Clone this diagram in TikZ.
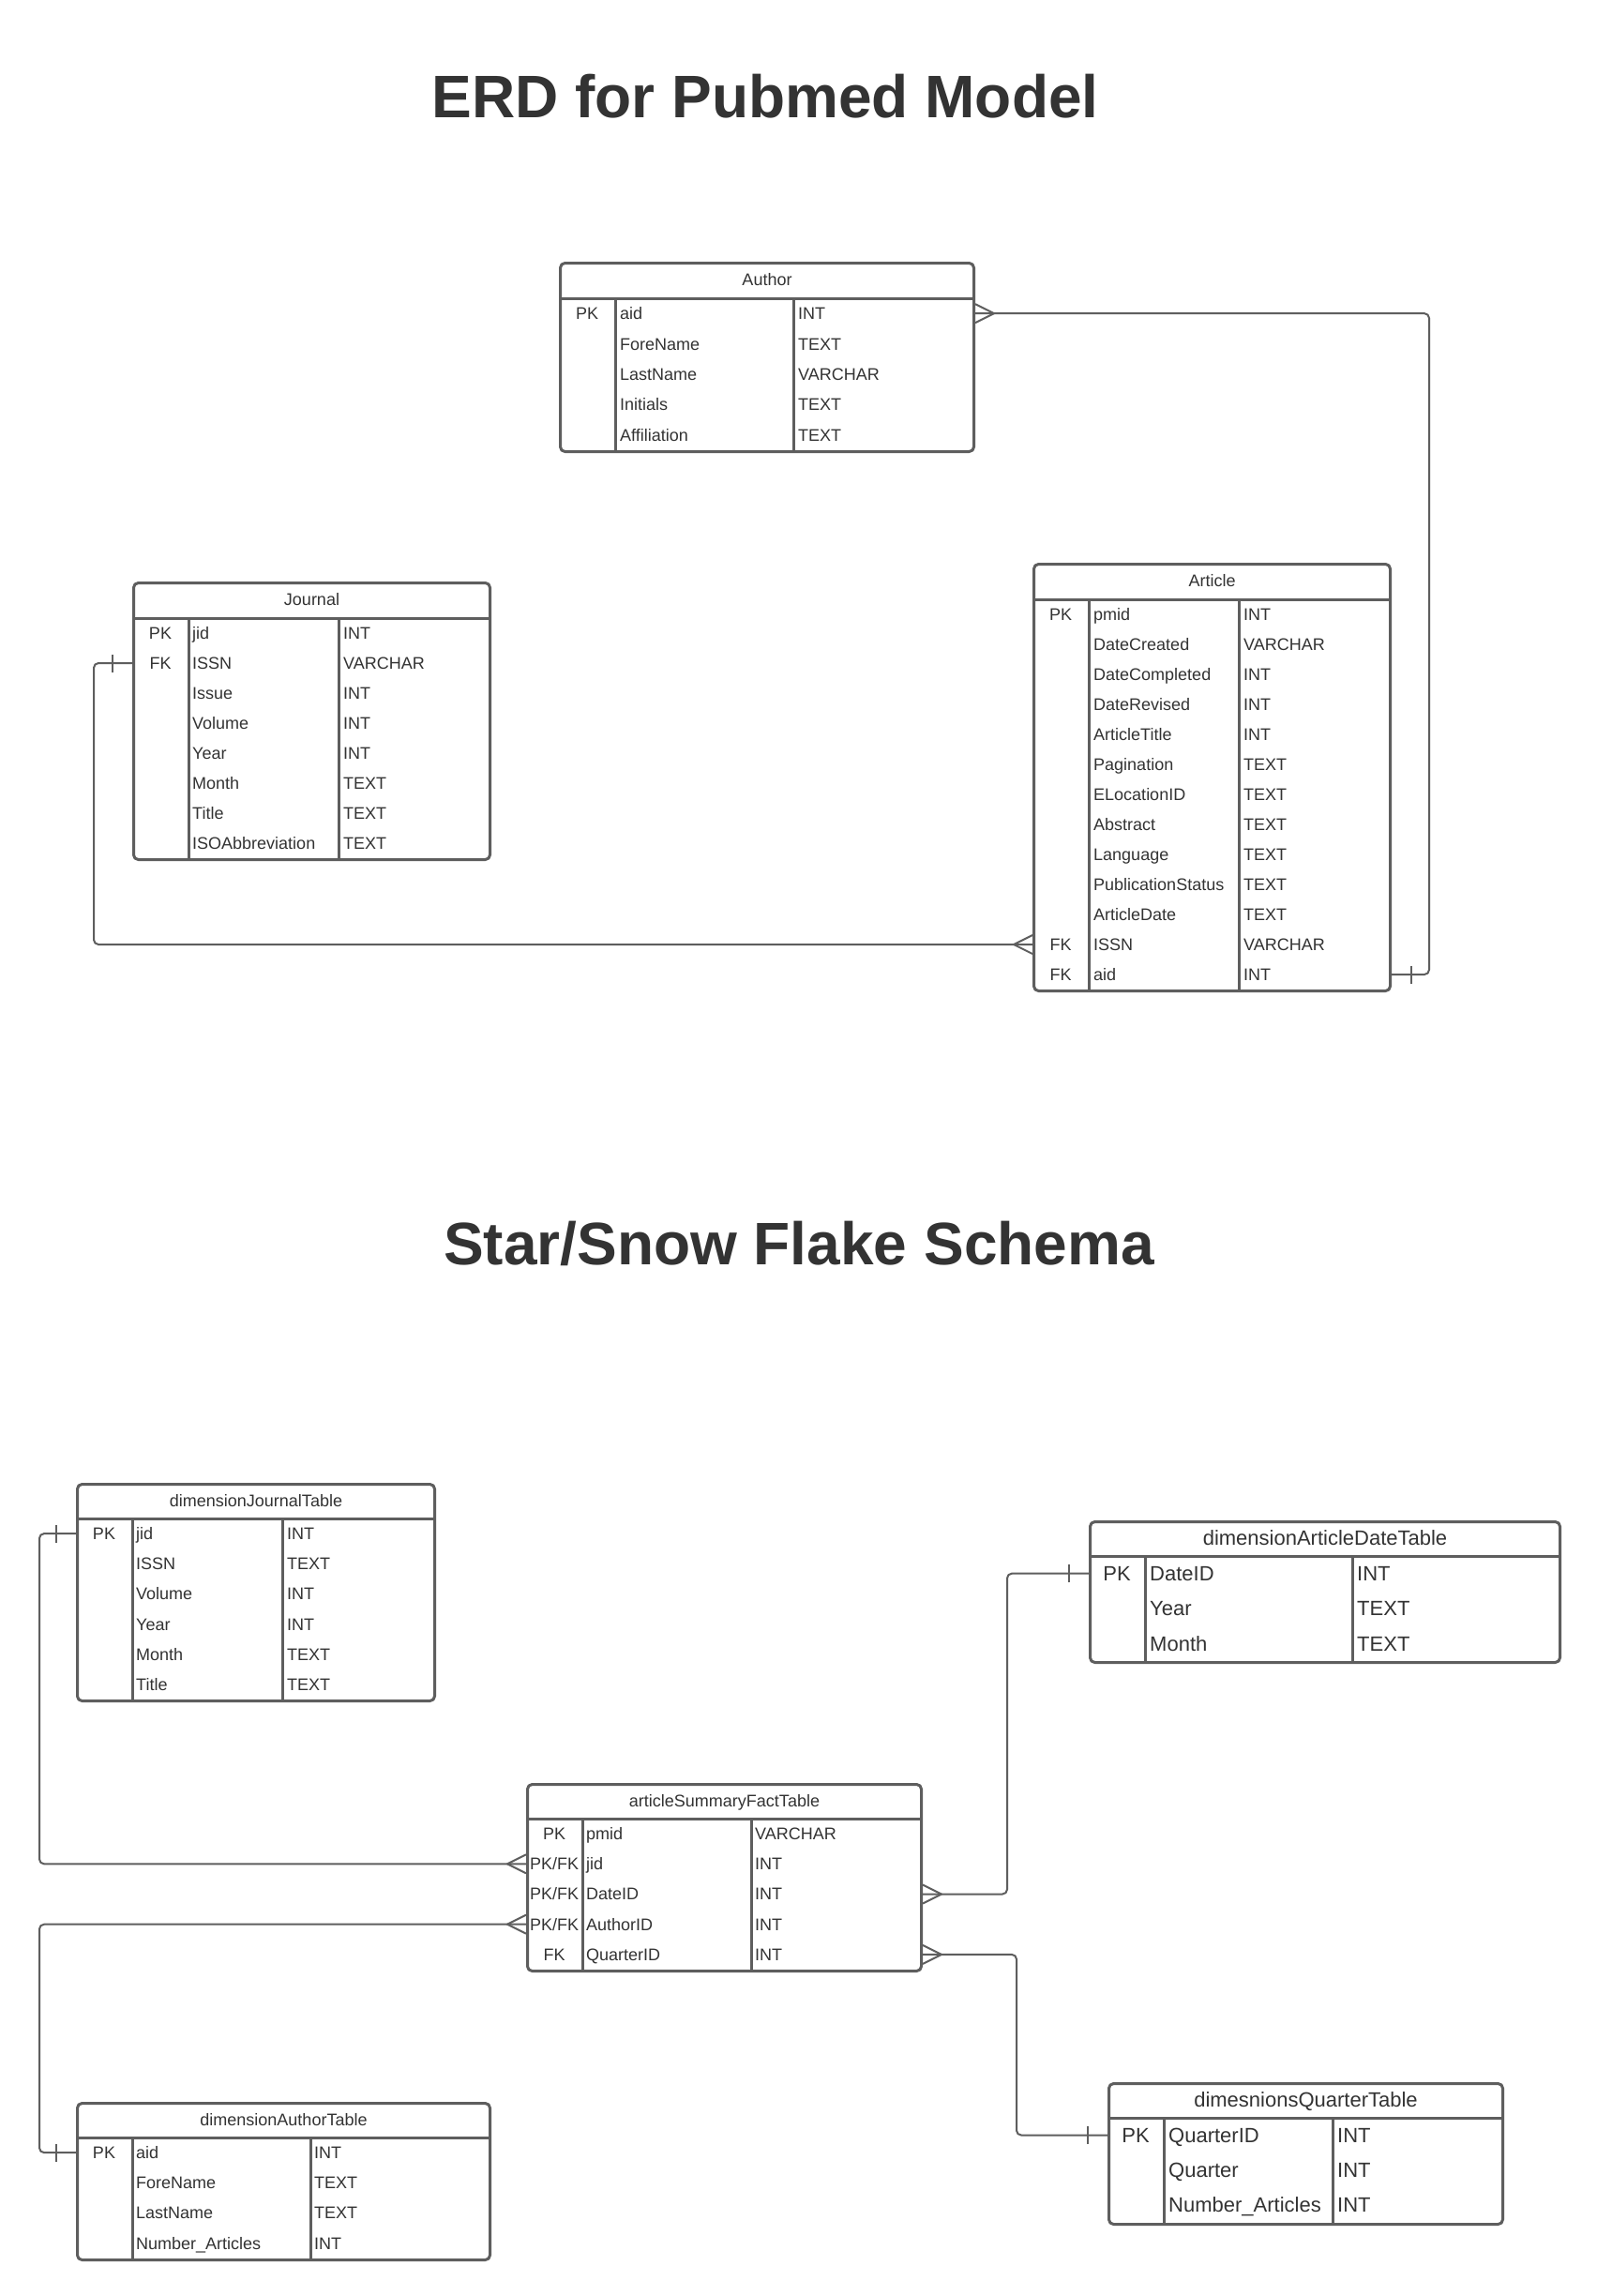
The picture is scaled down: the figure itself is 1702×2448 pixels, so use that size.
\documentclass[tikz,border=0pt]{standalone}
\usepackage{fontspec}
\setmainfont{Liberation Sans}
\usepackage{tikz}
\definecolor{linegray}{HTML}{5E5E5E}
\definecolor{textgray}{HTML}{333333}
\begin{document}
\begin{tikzpicture}[x=1pt, y=-1pt, line join=round,
		tbl/.style ={draw=linegray, line width=3pt, rounded corners=5pt, anchor=north west, inner sep=0pt},
		rule/.style ={draw=linegray, line width=3pt},
		link/.style ={draw=linegray, line width=2pt, rounded corners=5pt},
		head/.style ={text=textgray, inner sep=0pt, text height=12.9pt, text depth=0pt, font=\fontsize{18}{21}\selectfont},
		cell/.style ={text=textgray, inner sep=0pt, text height=12.9pt, text depth=0pt, font=\fontsize{18}{21}\selectfont},
		bighead/.style ={head, text height=15.8pt, font=\fontsize{22}{26}\selectfont},
		bigcell/.style ={cell, text height=15.8pt, font=\fontsize{22}{26}\selectfont},
		title/.style ={text=textgray, anchor=base, inner sep=0pt, font=\bfseries\fontsize{64}{72}\selectfont},
		crow/.pic ={\draw[link, rounded corners=0pt] (0,-10) -- (20,0) -- (0,10);},
		one/.pic ={\draw[link] (21,-9.5) -- (21,9.5);}]
		\useasboundingbox (0,0) rectangle (1702,2448);
		\fill[white] (0,0) rectangle (1702,2448);
		\node[title] (erdtitle) at (816,126) {ERD for Pubmed Model};
		\node[title] (startitle) at (852,1348) {Star/Snow Flake Schema};
		% Author
		\node[tbl, minimum width=441pt, minimum height=201pt] (author) at (596,279) {};
		\node[head] (author-h) at ([yshift=-19.5pt]author.north) {Author};
		\draw[rule] ([yshift=-39pt]author.north west) -- ([yshift=-39pt]author.north east);
		\draw[rule] ([xshift=60pt,yshift=-39pt]author.north west) -- ([xshift=60pt]author.south west);
		\draw[rule] ([xshift=250pt,yshift=-39pt]author.north west) -- ([xshift=250pt]author.south west);
		\foreach \k/\f/\t [count=\i] in {PK/aid/INT, /ForeName/TEXT, /LastName/VARCHAR, /Initials/TEXT, /Affiliation/TEXT}{
			\node[cell] (author-k\i) at ([xshift=30pt, yshift={-39pt-(\i-0.5)*32.4pt}]author.north west) {\k};
			\node[cell, anchor=west] (author-r\i) at ([xshift=65pt, yshift={-39pt-(\i-0.5)*32.4pt}]author.north west) {\f};
			\node[cell, anchor=west] (author-t\i) at ([xshift=255pt, yshift={-39pt-(\i-0.5)*32.4pt}]author.north west) {\t};
		}
		% Journal
		\node[tbl, minimum width=380pt, minimum height=295pt] (journal) at (141,620) {};
		\node[head] (journal-h) at ([yshift=-19.5pt]journal.north) {Journal};
		\draw[rule] ([yshift=-39pt]journal.north west) -- ([yshift=-39pt]journal.north east);
		\draw[rule] ([xshift=60pt,yshift=-39pt]journal.north west) -- ([xshift=60pt]journal.south west);
		\draw[rule] ([xshift=220pt,yshift=-39pt]journal.north west) -- ([xshift=220pt]journal.south west);
		\foreach \k/\f/\t [count=\i] in {PK/jid/INT, FK/ISSN/VARCHAR, /Issue/INT, /Volume/INT, /Year/INT, /Month/TEXT, /Title/TEXT, /ISOAbbreviation/TEXT}{
			\node[cell] (journal-k\i) at ([xshift=30pt, yshift={-39pt-(\i-0.5)*32pt}]journal.north west) {\k};
			\node[cell, anchor=west] (journal-r\i) at ([xshift=64pt, yshift={-39pt-(\i-0.5)*32pt}]journal.north west) {\f};
			\node[cell, anchor=west] (journal-t\i) at ([xshift=225pt, yshift={-39pt-(\i-0.5)*32pt}]journal.north west) {\t};
		}
		% Article
		\node[tbl, minimum width=380pt, minimum height=455pt] (article) at (1101,600) {};
		\node[head] (article-h) at ([yshift=-19.5pt]article.north) {Article};
		\draw[rule] ([yshift=-39pt]article.north west) -- ([yshift=-39pt]article.north east);
		\draw[rule] ([xshift=60pt,yshift=-39pt]article.north west) -- ([xshift=60pt]article.south west);
		\draw[rule] ([xshift=220pt,yshift=-39pt]article.north west) -- ([xshift=220pt]article.south west);
		\foreach \k/\f/\t [count=\i] in {PK/pmid/INT, /DateCreated/VARCHAR, /DateCompleted/INT, /DateRevised/INT, /ArticleTitle/INT, /Pagination/TEXT, /ELocationID/TEXT, /Abstract/TEXT, /Language/TEXT, /PublicationStatus/TEXT, /ArticleDate/TEXT, FK/ISSN/VARCHAR, FK/aid/INT}{
			\node[cell] (article-k\i) at ([xshift=30pt, yshift={-39pt-(\i-0.5)*32pt}]article.north west) {\k};
			\node[cell, anchor=west] (article-r\i) at ([xshift=65pt, yshift={-39pt-(\i-0.5)*32pt}]article.north west) {\f};
			\node[cell, anchor=west] (article-t\i) at ([xshift=225pt, yshift={-39pt-(\i-0.5)*32pt}]article.north west) {\t};
		}
		% dimensionJournalTable
		\node[tbl, minimum width=381pt, minimum height=231pt] (djournal) at (81,1581) {};
		\node[head] (djournal-h) at ([yshift=-19pt]djournal.north) {dimensionJournalTable};
		\draw[rule] ([yshift=-38pt]djournal.north west) -- ([yshift=-38pt]djournal.north east);
		\draw[rule] ([xshift=60pt,yshift=-38pt]djournal.north west) -- ([xshift=60pt]djournal.south west);
		\draw[rule] ([xshift=220pt,yshift=-38pt]djournal.north west) -- ([xshift=220pt]djournal.south west);
		\foreach \k/\f/\t [count=\i] in {PK/jid/INT, /ISSN/TEXT, /Volume/INT, /Year/INT, /Month/TEXT, /Title/TEXT}{
			\node[cell] (djournal-k\i) at ([xshift=30pt, yshift={-38pt-(\i-0.5)*32.2pt}]djournal.north west) {\k};
			\node[cell, anchor=west] (djournal-r\i) at ([xshift=64pt, yshift={-38pt-(\i-0.5)*32.2pt}]djournal.north west) {\f};
			\node[cell, anchor=west] (djournal-t\i) at ([xshift=225pt, yshift={-38pt-(\i-0.5)*32.2pt}]djournal.north west) {\t};
		}
		% dimensionArticleDateTable
		\node[tbl, minimum width=501pt, minimum height=150pt] (ddate) at (1161,1621) {};
		\node[bighead] (ddate-h) at ([yshift=-19pt]ddate.north) {dimensionArticleDateTable};
		\draw[rule] ([yshift=-38pt]ddate.north west) -- ([yshift=-38pt]ddate.north east);
		\draw[rule] ([xshift=60pt,yshift=-38pt]ddate.north west) -- ([xshift=60pt]ddate.south west);
		\draw[rule] ([xshift=281pt,yshift=-38pt]ddate.north west) -- ([xshift=281pt]ddate.south west);
		\foreach \k/\f/\t [count=\i] in {PK/DateID/INT, /Year/TEXT, /Month/TEXT}{
			\node[bigcell] (ddate-k\i) at ([xshift=30pt, yshift={-38pt-(\i-0.5)*37.3pt}]ddate.north west) {\k};
			\node[bigcell, anchor=west] (ddate-r\i) at ([xshift=65pt, yshift={-38pt-(\i-0.5)*37.3pt}]ddate.north west) {\f};
			\node[bigcell, anchor=west] (ddate-t\i) at ([xshift=286pt, yshift={-38pt-(\i-0.5)*37.3pt}]ddate.north west) {\t};
		}
		% articleSummaryFactTable
		\node[tbl, minimum width=420pt, minimum height=199pt] (fact) at (561,1901) {};
		\node[head] (fact-h) at ([yshift=-19pt]fact.north) {articleSummaryFactTable};
		\draw[rule] ([yshift=-38pt]fact.north west) -- ([yshift=-38pt]fact.north east);
		\draw[rule] ([xshift=60pt,yshift=-38pt]fact.north west) -- ([xshift=60pt]fact.south west);
		\draw[rule] ([xshift=240pt,yshift=-38pt]fact.north west) -- ([xshift=240pt]fact.south west);
		\foreach \k/\f/\t [count=\i] in {PK/pmid/VARCHAR, {PK/FK}/jid/INT, {PK/FK}/DateID/INT, {PK/FK}/AuthorID/INT, FK/QuarterID/INT}{
			\node[cell] (fact-k\i) at ([xshift=30pt, yshift={-38pt-(\i-0.5)*32.2pt}]fact.north west) {\k};
			\node[cell, anchor=west] (fact-r\i) at ([xshift=64pt, yshift={-38pt-(\i-0.5)*32.2pt}]fact.north west) {\f};
			\node[cell, anchor=west] (fact-t\i) at ([xshift=244pt, yshift={-38pt-(\i-0.5)*32.2pt}]fact.north west) {\t};
		}
		% dimensionAuthorTable
		\node[tbl, minimum width=440pt, minimum height=167pt] (dauthor) at (81,2241) {};
		\node[head] (dauthor-h) at ([yshift=-19pt]dauthor.north) {dimensionAuthorTable};
		\draw[rule] ([yshift=-38pt]dauthor.north west) -- ([yshift=-38pt]dauthor.north east);
		\draw[rule] ([xshift=60pt,yshift=-38pt]dauthor.north west) -- ([xshift=60pt]dauthor.south west);
		\draw[rule] ([xshift=250pt,yshift=-38pt]dauthor.north west) -- ([xshift=250pt]dauthor.south west);
		\foreach \k/\f/\t [count=\i] in {PK/aid/INT, /ForeName/TEXT, /LastName/TEXT, /Number\_Articles/INT}{
			\node[cell] (dauthor-k\i) at ([xshift=30pt, yshift={-38pt-(\i-0.5)*32.2pt}]dauthor.north west) {\k};
			\node[cell, anchor=west] (dauthor-r\i) at ([xshift=64pt, yshift={-38pt-(\i-0.5)*32.2pt}]dauthor.north west) {\f};
			\node[cell, anchor=west] (dauthor-t\i) at ([xshift=254pt, yshift={-38pt-(\i-0.5)*32.2pt}]dauthor.north west) {\t};
		}
		% dimesnionsQuarterTable
		\node[tbl, minimum width=420pt, minimum height=150pt] (dquarter) at (1181,2220) {};
		\node[bighead] (dquarter-h) at ([yshift=-19pt]dquarter.north) {dimesnionsQuarterTable};
		\draw[rule] ([yshift=-38pt]dquarter.north west) -- ([yshift=-38pt]dquarter.north east);
		\draw[rule] ([xshift=60pt,yshift=-38pt]dquarter.north west) -- ([xshift=60pt]dquarter.south west);
		\draw[rule] ([xshift=240pt,yshift=-38pt]dquarter.north west) -- ([xshift=240pt]dquarter.south west);
		\foreach \k/\f/\t [count=\i] in {PK/QuarterID/INT, /Quarter/INT, /Number\_Articles/INT}{
			\node[bigcell] (dquarter-k\i) at ([xshift=30pt, yshift={-38pt-(\i-0.5)*37pt}]dquarter.north west) {\k};
			\node[bigcell, anchor=west] (dquarter-r\i) at ([xshift=65pt, yshift={-38pt-(\i-0.5)*37pt}]dquarter.north west) {\f};
			\node[bigcell, anchor=west] (dquarter-t\i) at ([xshift=245pt, yshift={-38pt-(\i-0.5)*37pt}]dquarter.north west) {\t};
		}
		% relations
		\draw[link] (author-r1 -| author.east) -- ++(484,0) |- (article-r13 -| article.east); % aid
		\pic at (author-r1 -| author.east) {crow};
		\pic at (article-r13 -| article.east) {one};
		\draw[link] (journal-r2 -| journal.west) -- ++(-41,0) |- (article-r12 -| article.west); % ISSN
		\pic[rotate=180] at (journal-r2 -| journal.west) {one};
		\pic[rotate=180] at (article-r12 -| article.west) {crow};
		\draw[link] (djournal-r1 -| djournal.west) -- ++(-39,0) |- (fact-r2 -| fact.west); % jid
		\pic[rotate=180] at (djournal-r1 -| djournal.west) {one};
		\pic[rotate=180] at (fact-r2 -| fact.west) {crow};
		\draw[link] (dauthor-r1 -| dauthor.west) -- ++(-39,0) |- (fact-r4 -| fact.west); % AuthorID
		\pic[rotate=180] at (dauthor-r1 -| dauthor.west) {one};
		\pic[rotate=180] at (fact-r4 -| fact.west) {crow};
		\draw[link] (fact-r3 -| fact.east) -- ++(90,0) |- (ddate-r1 -| ddate.west); % DateID
		\pic at (fact-r3 -| fact.east) {crow};
		\pic[rotate=180] at (ddate-r1 -| ddate.west) {one};
		\draw[link] (fact-r5 -| fact.east) -- ++(100,0) |- (dquarter-r1 -| dquarter.west); % QuarterID
		\pic at (fact-r5 -| fact.east) {crow};
		\pic[rotate=180] at (dquarter-r1 -| dquarter.west) {one};
\end{tikzpicture}
\end{document}
